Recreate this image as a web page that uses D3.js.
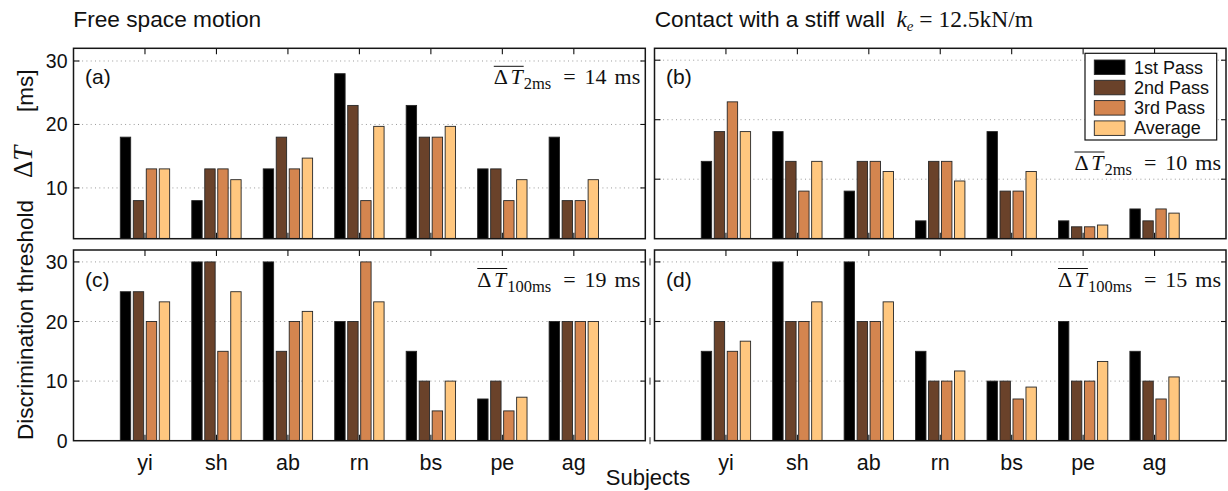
<!DOCTYPE html>
<html>
<head>
<meta charset="utf-8">
<script src="https://cdn.jsdelivr.net/npm/d3@7"></script>
<style>
  body { margin: 0; background: #fff; }
  svg { display: block; }
</style>
</head>
<body>
<svg id="chart" width="1228" height="491"></svg>
<script>
// Subjects and passes
const subjects = ["yi", "sh", "ab", "rn", "bs", "pe", "ag"];
const seriesNames = ["1st Pass", "2nd Pass", "3rd Pass", "Average"];
const seriesColors = ["#000000", "#6a422a", "#d4854f", "#ffc77f"];

// (a) free space motion, 2 ms
const freeShortFirst   = [18, 8, 13, 28, 23, 13, 18];
const freeShortSecond  = [8, 13, 18, 23, 18, 13, 8];
const freeShortThird   = [13, 13, 13, 8, 18, 8, 8];
const freeShortAverage = [13, 11.3, 14.7, 19.7, 19.7, 11.3, 11.3];

// (b) stiff wall, 2 ms
const wallShortFirst   = [13, 18, 8, 3, 18, 3, 5];
const wallShortSecond  = [18, 13, 13, 13, 8, 2, 3];
const wallShortThird   = [23, 8, 13, 13, 8, 2, 5];
const wallShortAverage = [18, 13, 11.3, 9.7, 11.3, 2.3, 4.3];

// (c) free space motion, 100 ms
const freeLongFirst   = [25, 30, 30, 20, 15, 7, 20];
const freeLongSecond  = [25, 30, 15, 20, 10, 10, 20];
const freeLongThird   = [20, 15, 20, 30, 5, 5, 20];
const freeLongAverage = [23.3, 25, 21.7, 23.3, 10, 7.3, 20];

// (d) stiff wall, 100 ms
const wallLongFirst   = [15, 30, 30, 15, 10, 20, 15];
const wallLongSecond  = [20, 20, 20, 10, 10, 10, 10];
const wallLongThird   = [15, 20, 20, 10, 7, 10, 7];
const wallLongAverage = [16.7, 23.3, 23.3, 11.7, 9, 13.3, 10.7];

// Panel letters, mean thresholds and y tick values
const panelLetters = ["(a)", "(b)", "(c)", "(d)"];
const meanSubscripts = ["2ms", "2ms", "100ms", "100ms"];
const meanValues = [14, 10, 19, 15];
const yTicksTop = [10, 20, 30];
const yTicksBottom = [0, 10, 20, 30];

const SANS = "'Liberation Sans', Arial, Helvetica, sans-serif";
const SERIF = "'Liberation Serif', 'Times New Roman', serif";

const svg = d3.select("#chart");

const cols = [{ x0: 73.5, x1: 645.3 }, { x0: 654.5, x1: 1226 }];
const rows = [{ y0: 48.3, y1: 238.7 }, { y0: 250, y1: 440.7 }];

const panels = [
  { col: 0, row: 0, yDomain: [2, 32], ticks: yTicksTop, labels: true,
    series: [freeShortFirst, freeShortSecond, freeShortThird, freeShortAverage], meanY: 84.3 },
  { col: 1, row: 0, yDomain: [0, 32], ticks: yTicksTop, labels: false,
    series: [wallShortFirst, wallShortSecond, wallShortThird, wallShortAverage], meanY: 170 },
  { col: 0, row: 1, yDomain: [0, 32], ticks: yTicksBottom, labels: true,
    series: [freeLongFirst, freeLongSecond, freeLongThird, freeLongAverage], meanY: 286.5 },
  { col: 1, row: 1, yDomain: [0, 32], ticks: yTicksBottom, labels: false,
    series: [wallLongFirst, wallLongSecond, wallLongThird, wallLongAverage], meanY: 286.5 }
];

// grouped-bar geometry in category units
const groupWidth = 0.727;
const barStep = groupWidth / seriesNames.length;
const barWidth = barStep * 0.8;

panels.forEach((p, pi) => {
  const { x0, x1 } = cols[p.col];
  const { y0, y1 } = rows[p.row];
  const x = d3.scaleLinear().domain([0, subjects.length + 1]).range([x0, x1]);
  const y = d3.scaleLinear().domain(p.yDomain).range([y1, y0]);
  const g = svg.append("g");

  const clipId = "clip" + pi;
  g.append("clipPath").attr("id", clipId)
    .append("rect").attr("x", x0).attr("y", y0).attr("width", x1 - x0).attr("height", y1 - y0);

  // dotted grid
  g.append("g").selectAll("line").data(yTicksTop).join("line")
    .attr("x1", x0).attr("x2", x1)
    .attr("y1", d => y(d)).attr("y2", d => y(d))
    .attr("stroke", "#9a9a9a").attr("stroke-width", 1)
    .attr("stroke-dasharray", "1,3.3");

  // bars
  const bars = g.append("g").attr("clip-path", `url(#${clipId})`);
  p.series.forEach((vals, si) => {
    bars.append("g").selectAll("rect").data(vals).join("rect")
      .attr("x", (d, i) => x(i + 1 + (si - 1.5) * barStep - barWidth / 2))
      .attr("width", x(barWidth) - x(0))
      .attr("y", d => y(d))
      .attr("height", d => y(p.yDomain[0]) - y(d))
      .attr("fill", seriesColors[si])
      .attr("stroke", "#262626").attr("stroke-width", 0.9);
  });

  // category ticks, top and bottom, pointing inward
  const cats = d3.range(1, subjects.length + 1);
  const tk = g.append("g").attr("stroke", "#111").attr("stroke-width", 1.1);
  tk.selectAll("line.t").data(cats).join("line").attr("class", "t")
    .attr("x1", d => x(d)).attr("x2", d => x(d)).attr("y1", y0).attr("y2", y0 + 6);
  tk.selectAll("line.b").data(cats).join("line").attr("class", "b")
    .attr("x1", d => x(d)).attr("x2", d => x(d)).attr("y1", y1).attr("y2", y1 - 6);
  // value ticks on both sides
  tk.selectAll("line.l").data(yTicksTop).join("line").attr("class", "l")
    .attr("x1", x0).attr("x2", x0 + 6).attr("y1", d => y(d)).attr("y2", d => y(d));
  tk.selectAll("line.r").data(yTicksTop).join("line").attr("class", "r")
    .attr("x1", x1).attr("x2", x1 - 5).attr("y1", d => y(d)).attr("y2", d => y(d));

  // frame
  g.append("rect").attr("x", x0).attr("y", y0).attr("width", x1 - x0).attr("height", y1 - y0)
    .attr("fill", "none").attr("stroke", "#161616").attr("stroke-width", 1.5);

  // value labels on the left column
  if (p.labels) {
    g.append("g").selectAll("text").data(p.ticks).join("text")
      .attr("x", x0 - 6).attr("y", d => y(d))
      .attr("text-anchor", "end").attr("dominant-baseline", "central")
      .style("font-family", SANS).style("font-size", "19.5px").attr("fill", "#111")
      .text(d => d);
  } else if (p.row === 1) {
    // stray marks left of panel (d)
    g.append("g").selectAll("line").data(p.ticks).join("line")
      .attr("x1", x0 - 4.5).attr("x2", x0 - 4.5)
      .attr("y1", d => y(d) - 3.5).attr("y2", d => y(d) + 3.5)
      .attr("stroke", "#333").attr("stroke-width", 1);
  }

  // subject labels under the bottom row
  if (p.row === 1) {
    g.append("g").selectAll("text").data(subjects).join("text")
      .attr("x", (d, i) => x(i + 1)).attr("y", 470)
      .attr("text-anchor", "middle")
      .style("font-family", SANS).style("font-size", "21.5px").attr("fill", "#111")
      .text(d => d);
  }

  // panel letter
  g.append("text").attr("x", x0 + 11.5).attr("y", y0 + (p.row === 0 ? 35.5 : 37))
    .style("font-family", SANS).style("font-size", "21px").attr("fill", "#111")
    .text(panelLetters[pi]);

  // mean threshold annotation: overline(ΔT) with subscript, then the value
  const t = g.append("text").attr("x", x1 - 5).attr("y", p.meanY)
    .attr("text-anchor", "end")
    .style("font-family", SERIF).style("font-size", "22px").attr("fill", "#111");
  t.append("tspan").text("\u0394");
  t.append("tspan").attr("dx", 2.5).style("font-style", "italic").text("T");
  t.append("tspan").attr("dx", 1).attr("dy", 5).style("font-size", "16.5px").text(meanSubscripts[pi]);
  t.append("tspan").attr("dx", 12).attr("dy", -5).text("=");
  t.append("tspan").attr("dx", 9).text(meanValues[pi]);
  t.append("tspan").attr("dx", 8).text("ms");
  const tn = t.node();
  const c0 = tn.getExtentOfChar(0), c1 = tn.getExtentOfChar(1);
  g.append("line")
    .attr("x1", c0.x).attr("x2", c1.x + c1.width + 1)
    .attr("y1", p.meanY - 18).attr("y2", p.meanY - 18)
    .attr("stroke", "#111").attr("stroke-width", 1);
});

// legend
const lg = svg.append("g");
lg.append("rect").attr("x", 1085).attr("y", 53.3).attr("width", 131.7).attr("height", 86.7)
  .attr("fill", "#fff").attr("stroke", "#111").attr("stroke-width", 1.2);
seriesNames.forEach((name, i) => {
  lg.append("rect").attr("x", 1094.3).attr("y", 60 + i * 20.3).attr("width", 30.7).attr("height", 14.5)
    .attr("fill", seriesColors[i]).attr("stroke", "#262626").attr("stroke-width", 0.9);
  lg.append("text").attr("x", 1134).attr("y", 73.5 + i * 20.3)
    .style("font-family", SANS).style("font-size", "18px").attr("fill", "#111")
    .text(name);
});

// titles
svg.append("text").attr("x", 73.3).attr("y", 27.3)
  .style("font-family", SANS).style("font-size", "22.7px").attr("fill", "#111")
  .text("Free space motion");
const rt = svg.append("text").attr("x", 654.7).attr("y", 27.3)
  .style("font-family", SANS).style("font-size", "22.7px").attr("fill", "#111");
rt.append("tspan").text("Contact with a stiff wall\u2002");
rt.append("tspan").style("font-family", SERIF).style("font-style", "italic").style("font-size", "23.5px").text("k");
rt.append("tspan").attr("dy", 4).style("font-family", SERIF).style("font-style", "italic").style("font-size", "15px").text("e");
rt.append("tspan").attr("dy", -4).style("font-family", SERIF).style("font-size", "23.5px").text(" = 12.5kN/m");

// axis titles
const yl = svg.append("text").attr("transform", "translate(33,0) rotate(-90)")
  .style("font-family", SANS).style("font-size", "22.5px").attr("fill", "#111");
yl.append("tspan").attr("x", -440).text("Discrimination threshold");
yl.append("tspan").attr("x", -178).attr("dy", -1).style("font-family", SERIF).style("font-size", "27px").text("\u0394");
yl.append("tspan").style("font-family", SERIF).style("font-style", "italic").style("font-size", "27px").text("T");
yl.append("tspan").attr("x", -112).attr("dy", 1).text("[ms]");

svg.append("text").attr("x", 648).attr("y", 484.5).attr("text-anchor", "middle")
  .style("font-family", SANS).style("font-size", "22px").attr("fill", "#111")
  .text("Subjects");
</script>
</body>
</html>
